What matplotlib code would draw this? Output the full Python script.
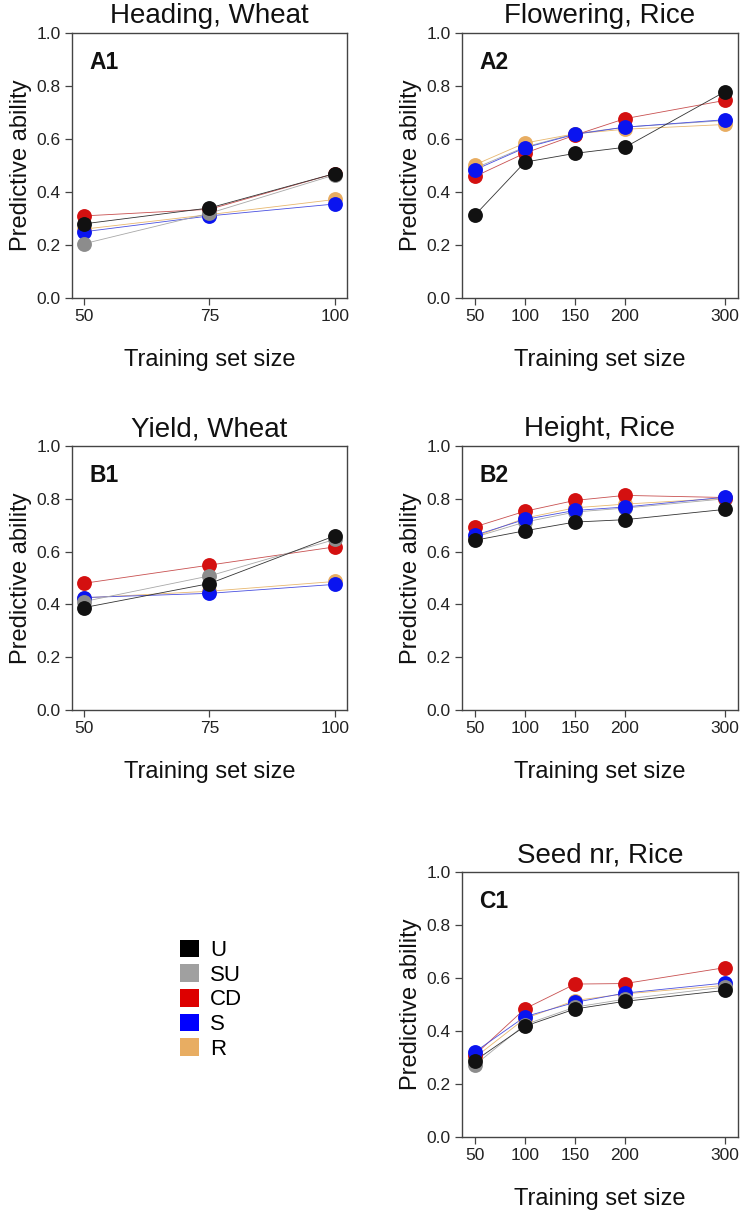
import matplotlib
matplotlib.use("Agg")
import matplotlib.pyplot as plt
from matplotlib.patches import Patch

plt.rcParams['font.family'] = ['Liberation Sans', 'DejaVu Sans']

# ---------------- data ----------------
methods = ["U", "SU", "CD", "S", "R"]
colors = {"U": "#111111", "SU": "#8c8c8c", "CD": "#d41010", "S": "#0a14f0", "R": "#e8ad62"}
line_colors = {"U": "#333333", "SU": "#a8a8a8", "CD": "#c85050", "S": "#4a50e0", "R": "#e8b870"}
legend_colors = {"U": "#000000", "SU": "#a0a0a0", "CD": "#dd0000", "S": "#0000ff", "R": "#e8ad62"}
order_a = ["R", "CD", "S", "SU", "U"]
order_b = ["SU", "R", "CD", "S", "U"]

x_wheat = [50, 75, 100]
x_rice = [50, 100, 150, 200, 300]

heading_wheat = {
    "U":  [0.28, 0.34, 0.47],
    "SU": [0.205, 0.32, 0.465],
    "CD": [0.31, 0.335, 0.47],
    "S":  [0.25, 0.31, 0.355],
    "R":  [0.26, 0.315, 0.372],
}
flowering_rice = {
    "U":  [0.313, 0.513, 0.546, 0.569, 0.779],
    "SU": [0.49, 0.57, 0.62, 0.645, 0.67],
    "CD": [0.459, 0.547, 0.615, 0.677, 0.746],
    "S":  [0.484, 0.567, 0.618, 0.645, 0.673],
    "R":  [0.503, 0.585, 0.62, 0.637, 0.655],
}
yield_wheat = {
    "U":  [0.388, 0.479, 0.66],
    "SU": [0.411, 0.508, 0.646],
    "CD": [0.48, 0.549, 0.618],
    "S":  [0.426, 0.442, 0.476],
    "R":  [0.425, 0.45, 0.487],
}
height_rice = {
    "U":  [0.643, 0.679, 0.712, 0.721, 0.76],
    "SU": [0.655, 0.712, 0.75, 0.765, 0.80],
    "CD": [0.694, 0.753, 0.794, 0.813, 0.805],
    "S":  [0.662, 0.722, 0.756, 0.769, 0.806],
    "R":  [0.656, 0.727, 0.766, 0.78, 0.802],
}
seed_rice = {
    "U":  [0.288, 0.418, 0.483, 0.512, 0.553],
    "SU": [0.272, 0.424, 0.49, 0.52, 0.566],
    "CD": [0.31, 0.484, 0.577, 0.579, 0.639],
    "S":  [0.321, 0.454, 0.508, 0.543, 0.581],
    "R":  [0.30, 0.447, 0.515, 0.54, 0.572],
}

panels = [
    # title, tag, xs, data, xlim, rect, draw order
    ("Heading, Wheat", "A1", x_wheat, heading_wheat, (47.6, 102.4), [0.0970, 0.7549, 0.3706, 0.2179], order_a),
    ("Flowering, Rice", "A2", x_rice, flowering_rice, (37, 313), [0.6226, 0.7549, 0.3720, 0.2179], order_b),
    ("Yield, Wheat", "B1", x_wheat, yield_wheat, (47.6, 102.4), [0.0970, 0.4161, 0.3706, 0.2171], order_a),
    ("Height, Rice", "B2", x_rice, height_rice, (37, 313), [0.6226, 0.4161, 0.3720, 0.2171], order_b),
    ("Seed nr, Rice", "C1", x_rice, seed_rice, (37, 313), [0.6226, 0.0650, 0.3720, 0.2179], order_a),
]

fig = plt.figure(figsize=(7.42, 12.16), dpi=100)
spine_col = "#444444"

for title, tag, xs, data, xlim, rect, order in panels:
    ax = fig.add_axes(rect)
    for m in order:
        ax.plot(xs, data[m], color=line_colors[m], lw=0.6, zorder=2)
        ax.plot(xs, data[m], linestyle="none", marker="o", markersize=10.7,
                markeredgewidth=0, markerfacecolor=colors[m], zorder=3)
    ax.set_xlim(*xlim)
    ax.set_ylim(0, 1)
    ax.set_xticks(xs)
    ax.set_xticklabels([str(v) for v in xs])
    ax.set_yticks([0.0, 0.2, 0.4, 0.6, 0.8, 1.0])
    ax.set_yticklabels(["0.0", "0.2", "0.4", "0.6", "0.8", "1.0"])
    ax.tick_params(direction="out", length=5, width=0.9, color=spine_col,
                   labelsize=12.5, labelcolor="#222222", pad=3)
    for s in ax.spines.values():
        s.set_color(spine_col)
        s.set_linewidth(1.0)
    ax.set_title(title, fontsize=20, pad=7, color="#111111")
    ax.set_xlabel("Training set size", fontsize=17, labelpad=18, color="#111111")
    ax.set_ylabel("Predictive ability", fontsize=17, labelpad=3, color="#111111")
    ax.text(0.062, 0.89, tag, transform=ax.transAxes, fontsize=16.5, fontweight="bold",
            va="center", ha="left", color="#111111")

handles = [Patch(facecolor=legend_colors[m], edgecolor="none", label=m) for m in methods]
fig.legend(handles=handles, loc="upper left", bbox_to_anchor=(0.228, 0.2365),
           frameon=False, fontsize=16, handlelength=0.85, handleheight=0.85,
           handletextpad=0.5, labelspacing=0.14, borderpad=0)

fig.savefig("out.png", dpi=100)
